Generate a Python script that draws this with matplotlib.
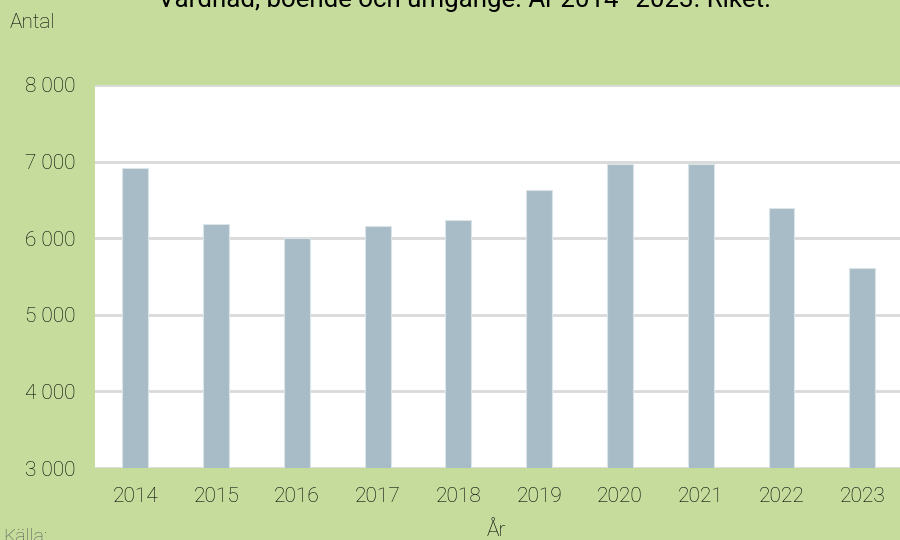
import matplotlib
matplotlib.use("Agg")
import matplotlib.pyplot as plt

years = ["2014", "2015", "2016", "2017", "2018", "2019", "2020", "2021", "2022", "2023"]
antal = [6910, 6183, 6005, 6162, 6244, 6635, 6965, 6974, 6391, 5605]
y_ticks = [3000, 4000, 5000, 6000, 7000, 8000]
y_labels = ["3 000", "4 000", "5 000", "6 000", "7 000", "8 000"]

plt.rcParams["font.family"] = ["Roboto", "DejaVu Sans"]

bg = "#c5dc9c"
bar_c = "#a7bcc6"
grid_c = "#d9d9d9"
txt_c = "#000000"

fig = plt.figure(figsize=(9, 5.4), dpi=100, facecolor=bg)
ax = fig.add_axes([95 / 900, 72 / 540, 807.6 / 900, 383 / 540])
ax.set_facecolor("white")

x = range(len(years))
ax.bar(x, antal, width=0.32, color=bar_c, edgecolor="#dbe4e8", linewidth=0.8, zorder=3)

ax.set_xlim(-0.5, len(years) - 0.5)
ax.set_ylim(3000, 8000)
ax.set_yticks(y_ticks)
ax.set_yticklabels(y_labels)
ax.set_xticks(list(x))
ax.set_xticklabels(years)
ax.grid(axis="y", color=grid_c, linewidth=2, zorder=0)
ax.set_axisbelow(True)
for s in ax.spines.values():
    s.set_visible(False)
ax.tick_params(length=0, labelsize=15, colors=txt_c)
ax.tick_params(axis="y", pad=14)
ax.tick_params(axis="x", pad=14)
for lab in ax.get_xticklabels() + ax.get_yticklabels():
    lab.set_fontweight("light")

fig.text(158 / 900, 1 - 7 / 540, "Vårdnad, boende och umgänge. År 2014–2023. Riket.",
         ha="left", va="baseline", fontsize=18.6, color=txt_c)
fig.text(10 / 900, 1 - 22 / 540, "Antal", ha="left", va="center", fontsize=15,
         fontweight="light", color=txt_c)
fig.text(0.552, 1 - 530 / 540, "År", ha="center", va="center", fontsize=15,
         fontweight="light", color=txt_c)
fig.text(3 / 900, 1 - 537 / 540, "Källa:", ha="left", va="center", fontsize=14,
         fontweight="light", color="#555555")

fig.savefig("out.png", dpi=100, facecolor=bg)
